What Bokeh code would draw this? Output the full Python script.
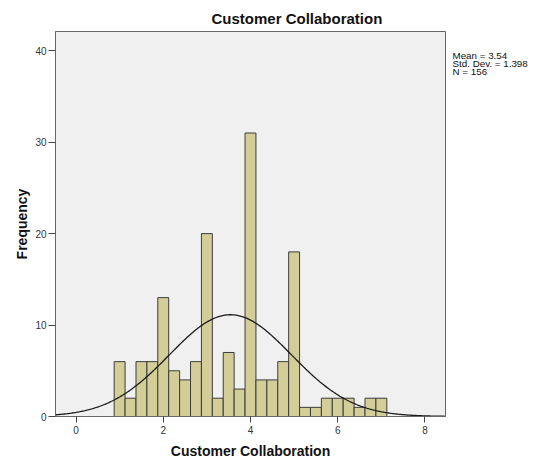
import numpy as np
from bokeh.plotting import figure
from bokeh.models import Range1d, Label, FixedTicker
from bokeh.layouts import row
from bokeh.embed import file_html
from bokeh.resources import INLINE

# ---- data ----
bin_centers = [1.0, 1.25, 1.5, 1.75, 2.0, 2.25, 2.5, 2.75, 3.0, 3.25, 3.5, 3.75, 4.0,
               4.25, 4.5, 4.75, 5.0, 5.25, 5.5, 5.75, 6.0, 6.25, 6.5, 6.75, 7.0]
counts = [6, 2, 6, 6, 13, 5, 4, 6, 20, 2, 7, 3, 31, 4, 4, 6, 18, 1, 1, 2, 2, 2, 1, 2, 2]
bin_width = 0.25
mean_val = 3.54
std_val = 1.398
n_val = 156
x_ticks = [0, 2, 4, 6, 8]
y_ticks = [0, 10, 20, 30, 40]
title_text = "Customer Collaboration"
x_label = "Customer Collaboration"
y_label = "Frequency"
stats_lines = ["Mean = 3.54", "Std. Dev. = 1.398", "N = 156"]

FONT = "Liberation Sans"

x_lo, x_hi = -0.47, 8.47
p = figure(width=448, height=463, output_backend="svg", toolbar_location=None,
           x_range=Range1d(x_lo, x_hi), y_range=Range1d(0, 42.1),
           min_border_left=55, min_border_right=3, min_border_top=31, min_border_bottom=47)

p.background_fill_color = "#F0F0F0"
p.border_fill_color = "white"
p.outline_line_color = "#666666"
p.outline_line_width = 1
p.xgrid.visible = False
p.ygrid.visible = False

# title
p.title.text = title_text
p.title.align = "left"
p.title.offset = 156
p.title.standoff = 9
p.title.text_font = FONT
p.title.text_font_size = "15px"
p.title.text_font_style = "bold"
p.title.text_color = "#111111"

# bars
p.vbar(x=bin_centers, width=bin_width, top=counts, bottom=0,
       fill_color="#D3CE97", line_color="#3c3c3c", line_width=1)

# fitted normal curve
xs = np.linspace(x_lo, x_hi, 400)
ys = n_val * bin_width * np.exp(-0.5 * ((xs - mean_val) / std_val) ** 2) / (std_val * np.sqrt(2 * np.pi))
p.line(xs, ys, line_color="#1a1a1a", line_width=1.3)

for ax in (p.xaxis[0], p.yaxis[0]):
    ax.axis_line_color = "#666666"
    ax.major_tick_line_color = "#444444"
    ax.minor_tick_line_color = None
    ax.major_tick_in = 0
    ax.major_label_text_font = FONT
    ax.major_label_text_font_size = "10px"
    ax.major_label_text_color = "#333333"
    ax.axis_label_text_font = FONT
    ax.axis_label_text_font_size = "14px"
    ax.axis_label_text_font_style = "bold"
    ax.axis_label_text_color = "#111111"

p.xaxis.ticker = FixedTicker(ticks=x_ticks)
p.yaxis.ticker = FixedTicker(ticks=y_ticks)
p.xaxis.axis_label = x_label
p.yaxis.axis_label = y_label
p.xaxis.major_tick_out = 6
p.yaxis.major_tick_out = 7
p.xaxis.major_label_standoff = 3
p.yaxis.major_label_standoff = 2
p.xaxis.axis_label_standoff = 6
p.yaxis.axis_label_standoff = 2

# side panel with the statistics text (its frame is aligned with the main frame)
side_w = 89
frame_h = 385
p2 = figure(width=side_w, height=463, output_backend="svg", toolbar_location=None,
            x_range=Range1d(0, side_w), y_range=Range1d(0, frame_h),
            x_axis_location=None, y_axis_location=None,
            min_border_left=0, min_border_right=0, min_border_top=0, min_border_bottom=0)
p2.title.visible = False
p2.grid.visible = False
p2.outline_line_color = None
p2.background_fill_color = "white"
p2.border_fill_color = "white"
for i, line in enumerate(stats_lines):
    p2.add_layout(Label(x=4, y=frame_h - 24.2 - i * 7.7, text=line, text_align="left",
                        text_baseline="middle", text_font=FONT, text_font_size="9.8px",
                        text_color="#111111"))

layout = row(p, p2)
open("out.html", "w").write(file_html(layout, INLINE))
